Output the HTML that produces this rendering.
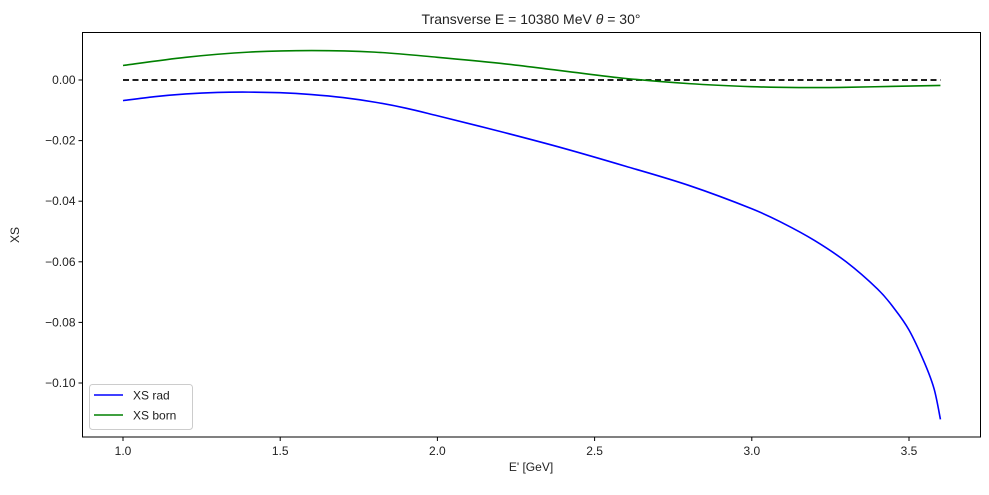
<!DOCTYPE html>
<html><head><meta charset="utf-8"><style>
body{margin:0;background:#fff;width:989px;height:490px;overflow:hidden}
svg text{font-family:"Liberation Sans","DejaVu Sans",sans-serif;fill:#222}
</style></head><body>
<svg id="chart" width="989" height="490"></svg>
<script>
const xVals=[1.0,1.1,1.2,1.3,1.4,1.5,1.6,1.7,1.8,1.9,2.0,2.2,2.4,2.6,2.8,3.0,3.1,3.2,3.3,3.4,3.45,3.5,3.55,3.58,3.6];
const radVals=[-0.0068,-0.0055,-0.0046,-0.0041,-0.0040,-0.0042,-0.0048,-0.0058,-0.0073,-0.0093,-0.0118,-0.0170,-0.0225,-0.0285,-0.0348,-0.0425,-0.0473,-0.0530,-0.0600,-0.0690,-0.0750,-0.0825,-0.0935,-0.102,-0.112];
const bornX=[1.0,1.2,1.4,1.6,1.8,2.0,2.2,2.4,2.6,2.8,3.0,3.15,3.3,3.5,3.6];
const bornVals=[0.0048,0.0075,0.0092,0.0097,0.0092,0.0075,0.0055,0.003,0.0005,-0.0012,-0.0022,-0.0025,-0.0024,-0.002,-0.0018];
const xTicks=[1.0,1.5,2.0,2.5,3.0,3.5];
const yTicks=[0.00,-0.02,-0.04,-0.06,-0.08,-0.10];
const L=82.5,R=980.5,T=32.5,B=437;
const sx=v=>123+(v-1.0)*314.4;
const sy=v=>80-v*3030;
const svg=document.getElementById('chart');
const NS='http://www.w3.org/2000/svg';
function mk(tag,attrs,txt){const e=document.createElementNS(NS,tag);for(const k in attrs)e.setAttribute(k,attrs[k]);if(txt!==undefined)e.textContent=txt;svg.appendChild(e);return e;}
function smooth(xs,ys){const n=xs.length;const px=xs.map(sx),py=ys.map(sy);let d='M'+px[0]+','+py[0];for(let i=0;i<n-1;i++){const p0=i>0?i-1:i,p3=i+2<n?i+2:i+1;const c1x=px[i]+(px[i+1]-px[p0])/6,c1y=py[i]+(py[i+1]-py[p0])/6;const c2x=px[i+1]-(px[p3]-px[i])/6,c2y=py[i+1]-(py[p3]-py[i])/6;d+=` C${c1x},${c1y} ${c2x},${c2y} ${px[i+1]},${py[i+1]}`;}return d;}
let e;
e=mk('line',{x1:sx(1.0),x2:sx(3.6),y1:sy(0),y2:sy(0),stroke:'#000','stroke-width':1.8,'stroke-dasharray':'6,3.5'});


e=mk('path',{d:smooth(xVals,radVals),fill:'none',stroke:'#0000ff','stroke-width':1.6});


e=mk('path',{d:smooth(bornX,bornVals),fill:'none',stroke:'#008000','stroke-width':1.6});


e=mk('rect',{x:L,y:T,width:R-L,height:B-T,fill:'none',stroke:'#000','stroke-width':1});


xTicks.forEach(v=>{const x=sx(v);
e=mk('line',{x1:x,x2:x,y1:B,y2:B+4,stroke:'#000'});


e=mk('text',{x:x,y:B+18,'text-anchor':'middle','font-size':12},v.toFixed(1));

});
yTicks.forEach(v=>{const y=sy(v);
e=mk('line',{x1:L-4,x2:L,y1:y,y2:y,stroke:'#000'});


e=mk('text',{x:L-7,y:y+4,'text-anchor':'end','font-size':12},(v===0?'0.00':'\u2212'+Math.abs(v).toFixed(2)));

});
e=mk('text',{x:531,y:471,'text-anchor':'middle','font-size':12},"E' [GeV]");


e=mk('text',{x:19,y:235,'text-anchor':'middle','font-size':12,transform:'rotate(-90 19 235)'},'XS');


e=mk('text',{x:531,y:24,'text-anchor':'middle','font-size':14});


e.innerHTML='Transverse E = 10380 MeV <tspan font-style="italic">\u03B8</tspan> = 30\u00B0';
e=mk('rect',{x:89.5,y:384.5,width:103,height:45,rx:3,fill:'#fff',stroke:'#ccc'});


e=mk('line',{x1:94,x2:123,y1:395,y2:395,stroke:'#0000ff','stroke-width':1.6});


e=mk('text',{x:133,y:399.5,'font-size':12},'XS rad');


e=mk('line',{x1:94,x2:123,y1:415,y2:415,stroke:'#008000','stroke-width':1.6});


e=mk('text',{x:133,y:419.5,'font-size':12},'XS born');


</script>
</body></html>
